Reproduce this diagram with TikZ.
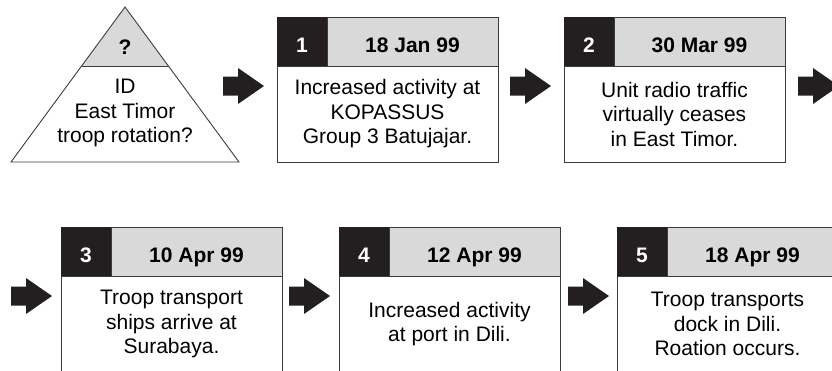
\documentclass[tikz,border=0pt]{standalone}
\usepackage{fontspec}
\setmainfont{Liberation Sans}
\usetikzlibrary{positioning,calc}
\definecolor{cellblack}{HTML}{231F20}
\definecolor{cellgray}{HTML}{D9D9D9}
\definecolor{rulegray}{HTML}{3C3C3C}
\tikzset{
  txt/.style={font=\fontsize{21}{24.5}\selectfont},
  hdr/.style={font=\bfseries\fontsize{21}{24}\selectfont,text height=21pt,text depth=0pt},
  numcell/.style={hdr,draw=cellblack,fill=cellblack,text=white,minimum width=50pt,minimum height=49pt,inner sep=0pt,outer sep=0pt},
  datecell/.style={hdr,draw=rulegray,fill=cellgray,minimum width=171pt,minimum height=49pt,inner sep=0pt,outer sep=0pt},
  bodycell/.style={txt,draw=rulegray,fill=white,minimum width=221pt,minimum height=96pt,inner sep=0pt,outer sep=0pt,align=center},
  blockarrow/.style={fill=cellblack},
}

\begin{document}
\begin{tikzpicture}[x=1pt,y=-1pt,line width=0.9pt]
		\useasboundingbox (0,0) rectangle (832,370);
		% triangle
		\coordinate (apex) at (125,7);
		\coordinate (bl) at (11,162);
		\coordinate (br) at (239,162);
		\coordinate (dl) at ($(apex)!0.381!(bl)$);
		\coordinate (dr) at ($(apex)!0.381!(br)$);
		\fill[cellgray] (apex) -- (dl) -- (dr) -- cycle;
		\draw[rulegray] (apex) -- (br) -- (bl) -- cycle;
		\draw[rulegray] (dl) -- (dr);
		\node[hdr] (qmark) at ($(dl)!0.5!(dr)+(0,-22)$) {?};
		\node[txt,align=center] (idtext) at (125,113) {ID\\East Timor\\troop rotation?};
		%
		\node[numcell,anchor=north west] (n1) at (277,17) {1};
		\node[datecell,right=0pt of n1] (d1) {18 Jan 99};
		\node[bodycell,anchor=north west] (b1) at (n1.south west) {Increased activity at\\KOPASSUS\\Group 3 Batujajar.};
		%
		\node[numcell,anchor=north west] (n2) at (564,17) {2};
		\node[datecell,right=0pt of n2] (d2) {30 Mar 99};
		\node[bodycell,anchor=north west] (b2) at (n2.south west) {Unit radio traffic\\virtually ceases\\in East Timor.};
		%
		\node[numcell,anchor=north west] (n3) at (61,227) {3};
		\node[datecell,right=0pt of n3] (d3) {10 Apr 99};
		\node[bodycell,anchor=north west] (b3) at (n3.south west) {Troop transport\\ships arrive at\\Surabaya.};
		%
		\node[numcell,anchor=north west] (n4) at (339,227) {4};
		\node[datecell,right=0pt of n4] (d4) {12 Apr 99};
		\node[bodycell,anchor=north west] (b4) at (n4.south west) {Increased activity\\at port in Dili.};
		%
		\node[numcell,anchor=north west] (n5) at (617,227) {5};
		\node[datecell,right=0pt of n5] (d5) {18 Apr 99};
		\node[bodycell,anchor=north west] (b5) at (n5.south west) {Troop transports\\dock in Dili.\\Roation occurs.};
		% arrows
		\foreach \ax/\ay in {223/86,510/86,798/86,11/296,289/296,568/296}
			\fill[blockarrow] (\ax,\ay) ++(0,-9.5) -- ++(15,0) -- ++(0,-8.5) -- ++(26,18) -- ++(-26,18) -- ++(0,-8.5) -- ++(-15,0) -- cycle;
	\end{tikzpicture}
\end{document}
